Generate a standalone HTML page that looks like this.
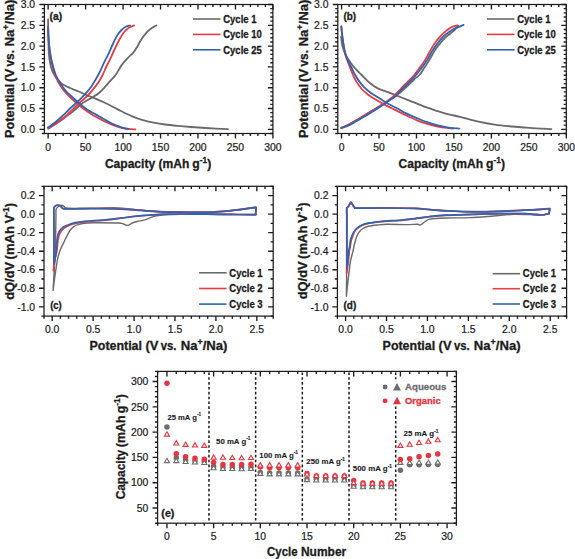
<!DOCTYPE html>
<html><head><meta charset="utf-8"><style>
html,body{margin:0;padding:0;background:#fff;width:575px;height:559px;overflow:hidden}
svg{display:block}
text{font-family:"Liberation Sans", sans-serif;stroke-width:0.22px}
text[font-weight=bold]{stroke-width:0.3px}
</style></head><body>
<svg width="575" height="559" viewBox="0 0 575 559" font-family='"Liberation Sans", sans-serif' fill="#1c1c1c">
<rect width="575" height="559" fill="#fff"/>
<path d="M48.15 133.50L48.15 138.50M48.15 4.50L48.15 9.50M55.64 133.50L55.64 136.10M55.64 4.50L55.64 7.10M63.13 133.50L63.13 136.10M63.13 4.50L63.13 7.10M70.62 133.50L70.62 136.10M70.62 4.50L70.62 7.10M78.11 133.50L78.11 136.10M78.11 4.50L78.11 7.10M85.60 133.50L85.60 138.50M85.60 4.50L85.60 9.50M93.10 133.50L93.10 136.10M93.10 4.50L93.10 7.10M100.59 133.50L100.59 136.10M100.59 4.50L100.59 7.10M108.08 133.50L108.08 136.10M108.08 4.50L108.08 7.10M115.57 133.50L115.57 136.10M115.57 4.50L115.57 7.10M123.06 133.50L123.06 138.50M123.06 4.50L123.06 9.50M130.56 133.50L130.56 136.10M130.56 4.50L130.56 7.10M138.05 133.50L138.05 136.10M138.05 4.50L138.05 7.10M145.54 133.50L145.54 136.10M145.54 4.50L145.54 7.10M153.03 133.50L153.03 136.10M153.03 4.50L153.03 7.10M160.52 133.50L160.52 138.50M160.52 4.50L160.52 9.50M168.01 133.50L168.01 136.10M168.01 4.50L168.01 7.10M175.51 133.50L175.51 136.10M175.51 4.50L175.51 7.10M183.00 133.50L183.00 136.10M183.00 4.50L183.00 7.10M190.49 133.50L190.49 136.10M190.49 4.50L190.49 7.10M197.98 133.50L197.98 138.50M197.98 4.50L197.98 9.50M205.47 133.50L205.47 136.10M205.47 4.50L205.47 7.10M212.97 133.50L212.97 136.10M212.97 4.50L212.97 7.10M220.46 133.50L220.46 136.10M220.46 4.50L220.46 7.10M227.95 133.50L227.95 136.10M227.95 4.50L227.95 7.10M235.44 133.50L235.44 138.50M235.44 4.50L235.44 9.50M242.93 133.50L242.93 136.10M242.93 4.50L242.93 7.10M250.42 133.50L250.42 136.10M250.42 4.50L250.42 7.10M257.92 133.50L257.92 136.10M257.92 4.50L257.92 7.10M265.41 133.50L265.41 136.10M265.41 4.50L265.41 7.10M272.90 133.50L272.90 138.50M272.90 4.50L272.90 9.50M44.40 133.50L41.80 133.50M272.90 133.50L270.30 133.50M44.40 129.34L39.40 129.34M272.90 129.34L267.90 129.34M44.40 125.18L41.80 125.18M272.90 125.18L270.30 125.18M44.40 121.02L41.80 121.02M272.90 121.02L270.30 121.02M44.40 116.85L41.80 116.85M272.90 116.85L270.30 116.85M44.40 112.69L41.80 112.69M272.90 112.69L270.30 112.69M44.40 108.53L39.40 108.53M272.90 108.53L267.90 108.53M44.40 104.37L41.80 104.37M272.90 104.37L270.30 104.37M44.40 100.21L41.80 100.21M272.90 100.21L270.30 100.21M44.40 96.05L41.80 96.05M272.90 96.05L270.30 96.05M44.40 91.89L41.80 91.89M272.90 91.89L270.30 91.89M44.40 87.73L39.40 87.73M272.90 87.73L267.90 87.73M44.40 83.56L41.80 83.56M272.90 83.56L270.30 83.56M44.40 79.40L41.80 79.40M272.90 79.40L270.30 79.40M44.40 75.24L41.80 75.24M272.90 75.24L270.30 75.24M44.40 71.08L41.80 71.08M272.90 71.08L270.30 71.08M44.40 66.92L39.40 66.92M272.90 66.92L267.90 66.92M44.40 62.76L41.80 62.76M272.90 62.76L270.30 62.76M44.40 58.60L41.80 58.60M272.90 58.60L270.30 58.60M44.40 54.44L41.80 54.44M272.90 54.44L270.30 54.44M44.40 50.27L41.80 50.27M272.90 50.27L270.30 50.27M44.40 46.11L39.40 46.11M272.90 46.11L267.90 46.11M44.40 41.95L41.80 41.95M272.90 41.95L270.30 41.95M44.40 37.79L41.80 37.79M272.90 37.79L270.30 37.79M44.40 33.63L41.80 33.63M272.90 33.63L270.30 33.63M44.40 29.47L41.80 29.47M272.90 29.47L270.30 29.47M44.40 25.31L39.40 25.31M272.90 25.31L267.90 25.31M44.40 21.15L41.80 21.15M272.90 21.15L270.30 21.15M44.40 16.98L41.80 16.98M272.90 16.98L270.30 16.98M44.40 12.82L41.80 12.82M272.90 12.82L270.30 12.82M44.40 8.66L41.80 8.66M272.90 8.66L270.30 8.66M44.40 4.50L39.40 4.50M272.90 4.50L267.90 4.50" stroke="#1c1c1c" stroke-width="1.35" fill="none"/>
<rect x="44.40" y="4.50" width="228.50" height="129.00" stroke="#1c1c1c" stroke-width="1.25" fill="none"/>
<path d="M48.10 19.30C48.12 21.08 48.15 26.55 48.20 30.00C48.25 33.45 48.30 36.23 48.40 40.00C48.50 43.77 48.50 48.68 48.80 52.60C49.10 56.52 49.58 60.35 50.20 63.50C50.82 66.65 51.62 69.28 52.50 71.50C53.38 73.72 54.42 75.22 55.50 76.80C56.58 78.38 57.75 79.70 59.00 81.00C60.25 82.30 61.17 83.43 63.00 84.60C64.83 85.77 67.38 86.85 70.00 88.00C72.62 89.15 75.80 90.27 78.70 91.50C81.60 92.73 84.50 94.17 87.40 95.40C90.30 96.63 93.20 97.67 96.10 98.90C99.00 100.13 101.90 101.42 104.80 102.80C107.70 104.18 110.72 105.78 113.50 107.20C116.28 108.62 118.38 109.78 121.50 111.30C124.62 112.82 128.63 114.83 132.20 116.30C135.77 117.77 139.32 119.05 142.90 120.10C146.48 121.15 150.02 121.87 153.70 122.60C157.38 123.33 160.98 123.95 165.00 124.50C169.02 125.05 173.47 125.48 177.80 125.90C182.13 126.32 186.35 126.65 191.00 127.00C195.65 127.35 199.55 127.63 205.70 128.00C211.85 128.37 224.20 129.00 227.90 129.20" stroke="#6a6a6a" stroke-width="1.80" fill="none" stroke-linejoin="round" stroke-linecap="round"/>
<path d="M48.30 128.60C49.73 127.72 54.03 125.23 56.90 123.30C59.77 121.37 62.65 119.13 65.50 117.00C68.35 114.87 71.37 112.65 74.00 110.50C76.63 108.35 79.07 105.82 81.30 104.10C83.53 102.38 85.52 101.35 87.40 100.20C89.28 99.05 90.72 98.35 92.60 97.20C94.48 96.05 96.67 94.97 98.70 93.30C100.73 91.63 102.92 89.23 104.80 87.20C106.68 85.17 108.22 83.13 110.00 81.10C111.78 79.07 113.58 77.62 115.50 75.00C117.42 72.38 119.43 68.25 121.50 65.40C123.57 62.55 125.93 60.03 127.90 57.90C129.87 55.77 131.68 54.57 133.30 52.60C134.92 50.63 136.35 48.17 137.60 46.10C138.85 44.03 139.55 42.17 140.80 40.20C142.05 38.23 143.50 36.17 145.10 34.30C146.70 32.43 148.53 30.48 150.40 29.00C152.27 27.52 155.32 26.00 156.30 25.40" stroke="#6a6a6a" stroke-width="1.80" fill="none" stroke-linejoin="round" stroke-linecap="round"/>
<path d="M48.30 128.30C49.73 127.38 54.03 124.80 56.90 122.80C59.77 120.80 63.32 118.10 65.50 116.30C67.68 114.50 67.52 114.38 70.00 112.00C72.48 109.62 77.50 104.68 80.40 102.00C83.30 99.32 85.22 98.08 87.40 95.90C89.58 93.72 91.62 91.22 93.50 88.90C95.38 86.58 97.18 84.32 98.70 82.00C100.22 79.68 101.32 77.58 102.60 75.00C103.88 72.42 105.05 69.35 106.40 66.50C107.75 63.65 109.27 60.93 110.70 57.90C112.13 54.87 113.57 51.33 115.00 48.30C116.43 45.27 117.87 42.30 119.30 39.70C120.73 37.10 122.17 34.58 123.60 32.70C125.03 30.82 126.15 29.62 127.90 28.40C129.65 27.18 133.07 25.90 134.10 25.40" stroke="#ea3a42" stroke-width="1.80" fill="none" stroke-linejoin="round" stroke-linecap="round"/>
<path d="M48.10 25.70C48.15 27.50 48.22 32.92 48.40 36.50C48.58 40.08 48.82 43.63 49.20 47.20C49.58 50.77 50.13 54.68 50.70 57.90C51.27 61.12 51.93 63.82 52.60 66.50C53.27 69.18 53.80 71.50 54.70 74.00C55.60 76.50 56.62 78.92 58.00 81.50C59.38 84.08 61.00 86.88 63.00 89.50C65.00 92.12 67.38 94.62 70.00 97.20C72.62 99.78 75.80 102.62 78.70 105.00C81.60 107.38 85.08 109.83 87.40 111.50C89.72 113.17 90.50 113.75 92.60 115.00C94.70 116.25 96.98 117.47 100.00 119.00C103.02 120.53 107.12 122.73 110.70 124.20C114.28 125.67 118.62 127.02 121.50 127.80C124.38 128.58 125.68 128.63 128.00 128.90C130.32 129.17 134.17 129.32 135.40 129.40" stroke="#ea3a42" stroke-width="1.80" fill="none" stroke-linejoin="round" stroke-linecap="round"/>
<path d="M47.80 127.60C48.95 126.80 52.12 124.87 54.70 122.80C57.28 120.73 60.75 117.58 63.30 115.20C65.85 112.82 67.43 110.92 70.00 108.50C72.57 106.08 76.08 103.23 78.70 100.70C81.32 98.17 83.67 95.55 85.70 93.30C87.73 91.05 89.32 89.38 90.90 87.20C92.48 85.02 93.97 82.23 95.20 80.20C96.43 78.17 97.50 76.45 98.30 75.00C99.10 73.55 99.00 73.63 100.00 71.50C101.00 69.37 102.87 65.18 104.30 62.20C105.73 59.22 107.17 56.63 108.60 53.60C110.03 50.57 111.47 47.03 112.90 44.00C114.33 40.97 115.77 37.73 117.20 35.40C118.63 33.07 120.07 31.43 121.50 30.00C122.93 28.57 124.38 27.55 125.80 26.80C127.22 26.05 129.30 25.72 130.00 25.50" stroke="#3064b0" stroke-width="1.80" fill="none" stroke-linejoin="round" stroke-linecap="round"/>
<path d="M48.10 27.30C48.17 28.83 48.28 33.18 48.50 36.50C48.72 39.82 48.98 43.63 49.40 47.20C49.82 50.77 50.38 54.68 51.00 57.90C51.62 61.12 52.30 63.65 53.10 66.50C53.90 69.35 54.63 72.25 55.80 75.00C56.97 77.75 58.48 80.40 60.10 83.00C61.72 85.60 63.85 88.60 65.50 90.60C67.15 92.60 67.80 92.97 70.00 95.00C72.20 97.03 75.80 100.33 78.70 102.80C81.60 105.27 84.50 107.83 87.40 109.80C90.30 111.77 94.00 113.42 96.10 114.60C98.20 115.78 97.57 115.50 100.00 116.90C102.43 118.30 107.12 121.27 110.70 123.00C114.28 124.73 118.55 126.30 121.50 127.30C124.45 128.30 127.25 128.72 128.40 129.00" stroke="#3064b0" stroke-width="1.80" fill="none" stroke-linejoin="round" stroke-linecap="round"/>
<text x="48.15" y="150.60" font-size="10.40" text-anchor="middle" stroke="#1c1c1c">0</text>
<text x="85.60" y="150.60" font-size="10.40" text-anchor="middle" stroke="#1c1c1c">50</text>
<text x="123.06" y="150.60" font-size="10.40" text-anchor="middle" stroke="#1c1c1c">100</text>
<text x="160.52" y="150.60" font-size="10.40" text-anchor="middle" stroke="#1c1c1c">150</text>
<text x="197.98" y="150.60" font-size="10.40" text-anchor="middle" stroke="#1c1c1c">200</text>
<text x="235.44" y="150.60" font-size="10.40" text-anchor="middle" stroke="#1c1c1c">250</text>
<text x="272.90" y="150.60" font-size="10.40" text-anchor="middle" stroke="#1c1c1c">300</text>
<text x="35.10" y="133.09" font-size="10.40" text-anchor="end" stroke="#1c1c1c">0.0</text>
<text x="35.10" y="112.28" font-size="10.40" text-anchor="end" stroke="#1c1c1c">0.5</text>
<text x="35.10" y="91.48" font-size="10.40" text-anchor="end" stroke="#1c1c1c">1.0</text>
<text x="35.10" y="70.67" font-size="10.40" text-anchor="end" stroke="#1c1c1c">1.5</text>
<text x="35.10" y="49.86" font-size="10.40" text-anchor="end" stroke="#1c1c1c">2.0</text>
<text x="35.10" y="29.06" font-size="10.40" text-anchor="end" stroke="#1c1c1c">2.5</text>
<text x="35.10" y="8.25" font-size="10.40" text-anchor="end" stroke="#1c1c1c">3.0</text>
<text font-size="10.20" font-weight="bold" stroke="#1c1c1c" transform="translate(50.20 19.60) translate(-0.62 0) scale(1.0135 1)">(a)</text>
<path d="M193.00 19.00H220.50" stroke="#6a6a6a" stroke-width="1.60"/>
<text font-size="10.10" font-weight="bold" stroke="#1c1c1c" transform="translate(223.80 22.70) translate(-0.57 0) scale(0.9421 1)">Cycle 1</text>
<path d="M193.00 34.40H220.50" stroke="#ea3a42" stroke-width="1.60"/>
<text font-size="10.10" font-weight="bold" stroke="#1c1c1c" transform="translate(223.80 38.10) translate(-0.57 0) scale(0.9399 1)">Cycle 10</text>
<path d="M193.00 49.80H220.50" stroke="#3064b0" stroke-width="1.60"/>
<text font-size="10.10" font-weight="bold" stroke="#1c1c1c" transform="translate(223.80 53.50) translate(-0.57 0) scale(0.9399 1)">Cycle 25</text>
<path d="M341.55 133.50L341.55 138.50M341.55 4.50L341.55 9.50M349.04 133.50L349.04 136.10M349.04 4.50L349.04 7.10M356.53 133.50L356.53 136.10M356.53 4.50L356.53 7.10M364.02 133.50L364.02 136.10M364.02 4.50L364.02 7.10M371.51 133.50L371.51 136.10M371.51 4.50L371.51 7.10M379.00 133.50L379.00 138.50M379.00 4.50L379.00 9.50M386.50 133.50L386.50 136.10M386.50 4.50L386.50 7.10M393.99 133.50L393.99 136.10M393.99 4.50L393.99 7.10M401.48 133.50L401.48 136.10M401.48 4.50L401.48 7.10M408.97 133.50L408.97 136.10M408.97 4.50L408.97 7.10M416.46 133.50L416.46 138.50M416.46 4.50L416.46 9.50M423.96 133.50L423.96 136.10M423.96 4.50L423.96 7.10M431.45 133.50L431.45 136.10M431.45 4.50L431.45 7.10M438.94 133.50L438.94 136.10M438.94 4.50L438.94 7.10M446.43 133.50L446.43 136.10M446.43 4.50L446.43 7.10M453.92 133.50L453.92 138.50M453.92 4.50L453.92 9.50M461.41 133.50L461.41 136.10M461.41 4.50L461.41 7.10M468.91 133.50L468.91 136.10M468.91 4.50L468.91 7.10M476.40 133.50L476.40 136.10M476.40 4.50L476.40 7.10M483.89 133.50L483.89 136.10M483.89 4.50L483.89 7.10M491.38 133.50L491.38 138.50M491.38 4.50L491.38 9.50M498.87 133.50L498.87 136.10M498.87 4.50L498.87 7.10M506.37 133.50L506.37 136.10M506.37 4.50L506.37 7.10M513.86 133.50L513.86 136.10M513.86 4.50L513.86 7.10M521.35 133.50L521.35 136.10M521.35 4.50L521.35 7.10M528.84 133.50L528.84 138.50M528.84 4.50L528.84 9.50M536.33 133.50L536.33 136.10M536.33 4.50L536.33 7.10M543.82 133.50L543.82 136.10M543.82 4.50L543.82 7.10M551.32 133.50L551.32 136.10M551.32 4.50L551.32 7.10M558.81 133.50L558.81 136.10M558.81 4.50L558.81 7.10M566.30 133.50L566.30 138.50M566.30 4.50L566.30 9.50M337.80 133.50L335.20 133.50M566.30 133.50L563.70 133.50M337.80 129.34L332.80 129.34M566.30 129.34L561.30 129.34M337.80 125.18L335.20 125.18M566.30 125.18L563.70 125.18M337.80 121.02L335.20 121.02M566.30 121.02L563.70 121.02M337.80 116.85L335.20 116.85M566.30 116.85L563.70 116.85M337.80 112.69L335.20 112.69M566.30 112.69L563.70 112.69M337.80 108.53L332.80 108.53M566.30 108.53L561.30 108.53M337.80 104.37L335.20 104.37M566.30 104.37L563.70 104.37M337.80 100.21L335.20 100.21M566.30 100.21L563.70 100.21M337.80 96.05L335.20 96.05M566.30 96.05L563.70 96.05M337.80 91.89L335.20 91.89M566.30 91.89L563.70 91.89M337.80 87.73L332.80 87.73M566.30 87.73L561.30 87.73M337.80 83.56L335.20 83.56M566.30 83.56L563.70 83.56M337.80 79.40L335.20 79.40M566.30 79.40L563.70 79.40M337.80 75.24L335.20 75.24M566.30 75.24L563.70 75.24M337.80 71.08L335.20 71.08M566.30 71.08L563.70 71.08M337.80 66.92L332.80 66.92M566.30 66.92L561.30 66.92M337.80 62.76L335.20 62.76M566.30 62.76L563.70 62.76M337.80 58.60L335.20 58.60M566.30 58.60L563.70 58.60M337.80 54.44L335.20 54.44M566.30 54.44L563.70 54.44M337.80 50.27L335.20 50.27M566.30 50.27L563.70 50.27M337.80 46.11L332.80 46.11M566.30 46.11L561.30 46.11M337.80 41.95L335.20 41.95M566.30 41.95L563.70 41.95M337.80 37.79L335.20 37.79M566.30 37.79L563.70 37.79M337.80 33.63L335.20 33.63M566.30 33.63L563.70 33.63M337.80 29.47L335.20 29.47M566.30 29.47L563.70 29.47M337.80 25.31L332.80 25.31M566.30 25.31L561.30 25.31M337.80 21.15L335.20 21.15M566.30 21.15L563.70 21.15M337.80 16.98L335.20 16.98M566.30 16.98L563.70 16.98M337.80 12.82L335.20 12.82M566.30 12.82L563.70 12.82M337.80 8.66L335.20 8.66M566.30 8.66L563.70 8.66M337.80 4.50L332.80 4.50M566.30 4.50L561.30 4.50" stroke="#1c1c1c" stroke-width="1.35" fill="none"/>
<rect x="337.80" y="4.50" width="228.50" height="129.00" stroke="#1c1c1c" stroke-width="1.25" fill="none"/>
<path d="M341.10 37.00C341.32 38.52 341.65 43.15 342.40 46.10C343.15 49.05 344.17 51.83 345.60 54.70C347.03 57.57 349.22 60.80 351.00 63.30C352.78 65.80 354.52 67.75 356.30 69.70C358.08 71.65 359.55 72.87 361.70 75.00C363.85 77.13 366.52 80.27 369.20 82.50C371.88 84.73 374.93 86.88 377.80 88.40C380.67 89.92 383.53 90.52 386.40 91.60C389.27 92.68 391.78 93.65 395.00 94.90C398.22 96.15 402.12 97.68 405.70 99.10C409.28 100.52 412.92 101.97 416.50 103.40C420.08 104.83 423.63 106.40 427.20 107.70C430.77 109.00 434.32 110.08 437.90 111.20C441.48 112.32 445.02 113.47 448.70 114.40C452.38 115.33 455.22 115.65 460.00 116.80C464.78 117.95 471.60 120.00 477.40 121.30C483.20 122.60 489.00 123.73 494.80 124.60C500.60 125.47 506.40 125.95 512.20 126.50C518.00 127.05 523.08 127.47 529.60 127.90C536.12 128.33 547.68 128.90 551.30 129.10" stroke="#6a6a6a" stroke-width="1.80" fill="none" stroke-linejoin="round" stroke-linecap="round"/>
<path d="M341.30 127.80C342.55 127.27 345.93 126.07 348.80 124.60C351.67 123.13 355.10 121.00 358.50 119.00C361.90 117.00 365.63 114.72 369.20 112.60C372.77 110.48 376.68 108.30 379.90 106.30C383.12 104.30 385.98 102.23 388.50 100.60C391.02 98.97 393.02 97.90 395.00 96.50C396.98 95.10 398.25 94.00 400.40 92.20C402.55 90.40 405.63 87.82 407.90 85.70C410.17 83.58 412.08 81.28 414.00 79.50C415.92 77.72 417.65 76.98 419.40 75.00C421.15 73.02 422.85 70.08 424.50 67.60C426.15 65.12 427.60 62.97 429.30 60.10C431.00 57.23 432.90 53.18 434.70 50.40C436.50 47.62 438.32 45.55 440.10 43.40C441.88 41.25 443.62 39.20 445.40 37.50C447.18 35.80 449.20 34.53 450.80 33.20C452.40 31.87 453.77 30.75 455.00 29.50C456.23 28.25 457.67 26.33 458.20 25.70" stroke="#6a6a6a" stroke-width="1.80" fill="none" stroke-linejoin="round" stroke-linecap="round"/>
<path d="M341.30 127.80C342.55 127.27 345.93 126.07 348.80 124.60C351.67 123.13 355.10 121.00 358.50 119.00C361.90 117.00 365.63 114.75 369.20 112.60C372.77 110.45 376.68 108.17 379.90 106.10C383.12 104.03 385.98 102.07 388.50 100.20C391.02 98.33 392.25 97.52 395.00 94.90C397.75 92.28 401.78 87.82 405.00 84.50C408.22 81.18 411.85 77.82 414.30 75.00C416.75 72.18 417.92 70.08 419.70 67.60C421.48 65.12 423.22 62.97 425.00 60.10C426.78 57.23 428.60 53.45 430.40 50.40C432.20 47.35 434.00 44.30 435.80 41.80C437.60 39.30 439.42 37.27 441.20 35.40C442.98 33.53 444.87 31.92 446.50 30.60C448.13 29.28 449.23 28.38 451.00 27.50C452.77 26.62 456.08 25.67 457.10 25.30" stroke="#ea3a42" stroke-width="1.80" fill="none" stroke-linejoin="round" stroke-linecap="round"/>
<path d="M341.30 26.30C341.47 28.00 341.92 33.30 342.30 36.50C342.68 39.70 343.15 42.65 343.60 45.50C344.05 48.35 344.13 50.45 345.00 53.60C345.87 56.75 347.45 60.83 348.80 64.40C350.15 67.97 351.85 72.17 353.10 75.00C354.35 77.83 354.87 79.07 356.30 81.40C357.73 83.73 359.55 86.67 361.70 89.00C363.85 91.33 366.52 93.43 369.20 95.40C371.88 97.37 374.93 99.10 377.80 100.80C380.67 102.50 383.53 104.08 386.40 105.60C389.27 107.12 391.78 108.30 395.00 109.90C398.22 111.50 402.12 113.50 405.70 115.20C409.28 116.90 412.92 118.67 416.50 120.10C420.08 121.53 423.63 122.73 427.20 123.80C430.77 124.87 434.32 125.78 437.90 126.50C441.48 127.22 446.18 127.77 448.70 128.10C451.22 128.43 452.28 128.43 453.00 128.50" stroke="#ea3a42" stroke-width="1.80" fill="none" stroke-linejoin="round" stroke-linecap="round"/>
<path d="M341.30 128.10C342.55 127.65 346.30 126.55 348.80 125.40C351.30 124.25 353.62 122.72 356.30 121.20C358.98 119.68 362.03 118.00 364.90 116.30C367.77 114.60 370.63 112.78 373.50 111.00C376.37 109.22 379.42 107.40 382.10 105.60C384.78 103.80 387.45 101.72 389.60 100.20C391.75 98.68 393.03 98.20 395.00 96.50C396.97 94.80 399.25 92.15 401.40 90.00C403.55 87.85 405.47 86.10 407.90 83.60C410.33 81.10 413.68 77.67 416.00 75.00C418.32 72.33 419.93 70.08 421.80 67.60C423.67 65.12 425.40 62.97 427.20 60.10C429.00 57.23 430.82 53.27 432.60 50.40C434.38 47.53 436.12 45.22 437.90 42.90C439.68 40.58 441.50 38.28 443.30 36.50C445.10 34.72 446.75 33.55 448.70 32.20C450.65 30.85 452.52 29.62 455.00 28.40C457.48 27.18 462.17 25.48 463.60 24.90" stroke="#3064b0" stroke-width="1.80" fill="none" stroke-linejoin="round" stroke-linecap="round"/>
<path d="M341.30 26.30C341.48 28.00 341.95 33.02 342.40 36.50C342.85 39.98 343.28 43.63 344.00 47.20C344.72 50.77 345.53 54.68 346.70 57.90C347.87 61.12 349.58 63.65 351.00 66.50C352.42 69.35 353.95 72.68 355.20 75.00C356.45 77.32 357.07 78.43 358.50 80.40C359.93 82.37 361.67 84.67 363.80 86.80C365.93 88.93 368.62 91.23 371.30 93.20C373.98 95.17 377.03 96.80 379.90 98.60C382.77 100.40 385.65 102.38 388.50 104.00C391.35 105.62 394.13 106.78 397.00 108.30C399.87 109.82 402.45 111.50 405.70 113.10C408.95 114.70 412.92 116.38 416.50 117.90C420.08 119.42 423.63 120.95 427.20 122.20C430.77 123.45 434.32 124.50 437.90 125.40C441.48 126.30 445.13 127.07 448.70 127.60C452.27 128.13 457.53 128.43 459.30 128.60" stroke="#3064b0" stroke-width="1.80" fill="none" stroke-linejoin="round" stroke-linecap="round"/>
<text x="341.55" y="150.60" font-size="10.40" text-anchor="middle" stroke="#1c1c1c">0</text>
<text x="379.00" y="150.60" font-size="10.40" text-anchor="middle" stroke="#1c1c1c">50</text>
<text x="416.46" y="150.60" font-size="10.40" text-anchor="middle" stroke="#1c1c1c">100</text>
<text x="453.92" y="150.60" font-size="10.40" text-anchor="middle" stroke="#1c1c1c">150</text>
<text x="491.38" y="150.60" font-size="10.40" text-anchor="middle" stroke="#1c1c1c">200</text>
<text x="528.84" y="150.60" font-size="10.40" text-anchor="middle" stroke="#1c1c1c">250</text>
<text x="566.30" y="150.60" font-size="10.40" text-anchor="middle" stroke="#1c1c1c">300</text>
<text x="328.50" y="133.09" font-size="10.40" text-anchor="end" stroke="#1c1c1c">0.0</text>
<text x="328.50" y="112.28" font-size="10.40" text-anchor="end" stroke="#1c1c1c">0.5</text>
<text x="328.50" y="91.48" font-size="10.40" text-anchor="end" stroke="#1c1c1c">1.0</text>
<text x="328.50" y="70.67" font-size="10.40" text-anchor="end" stroke="#1c1c1c">1.5</text>
<text x="328.50" y="49.86" font-size="10.40" text-anchor="end" stroke="#1c1c1c">2.0</text>
<text x="328.50" y="29.06" font-size="10.40" text-anchor="end" stroke="#1c1c1c">2.5</text>
<text x="328.50" y="8.25" font-size="10.40" text-anchor="end" stroke="#1c1c1c">3.0</text>
<text font-size="10.20" font-weight="bold" stroke="#1c1c1c" transform="translate(344.00 19.60) translate(-0.59 0) scale(0.9701 1)">(b)</text>
<path d="M487.00 19.00H514.50" stroke="#6a6a6a" stroke-width="1.60"/>
<text font-size="10.10" font-weight="bold" stroke="#1c1c1c" transform="translate(517.80 22.70) translate(-0.57 0) scale(0.9421 1)">Cycle 1</text>
<path d="M487.00 34.40H514.50" stroke="#ea3a42" stroke-width="1.60"/>
<text font-size="10.10" font-weight="bold" stroke="#1c1c1c" transform="translate(517.80 38.10) translate(-0.57 0) scale(0.9399 1)">Cycle 10</text>
<path d="M487.00 49.80H514.50" stroke="#3064b0" stroke-width="1.60"/>
<text font-size="10.10" font-weight="bold" stroke="#1c1c1c" transform="translate(517.80 53.50) translate(-0.57 0) scale(0.9399 1)">Cycle 25</text>
<text font-size="12.30" font-weight="bold" stroke="#1c1c1c" transform="translate(13.80 137.30) rotate(-90) translate(-0.77 0) scale(1.0413 1)">Potential</text>
<text font-size="12.30" font-weight="bold" stroke="#1c1c1c" transform="translate(13.80 81.40) rotate(-90) translate(-0.83 0) scale(1.1208 1)">(V</text>
<text font-size="12.30" font-weight="bold" stroke="#1c1c1c" transform="translate(13.80 65.80) rotate(-90) translate(-0.71 0) scale(0.9641 1)">vs.</text>
<text font-size="12.30" font-weight="bold" stroke="#1c1c1c" transform="translate(13.80 45.80) rotate(-90) translate(-0.79 0) scale(1.0716 1)">Na<tspan font-size="8.36" dy="-4.92">+</tspan><tspan dy="4.92">/Na)</tspan></text>
<text font-size="12.30" font-weight="bold" stroke="#1c1c1c" transform="translate(307.80 137.30) rotate(-90) translate(-0.77 0) scale(1.0413 1)">Potential</text>
<text font-size="12.30" font-weight="bold" stroke="#1c1c1c" transform="translate(307.80 81.40) rotate(-90) translate(-0.83 0) scale(1.1208 1)">(V</text>
<text font-size="12.30" font-weight="bold" stroke="#1c1c1c" transform="translate(307.80 65.80) rotate(-90) translate(-0.71 0) scale(0.9641 1)">vs.</text>
<text font-size="12.30" font-weight="bold" stroke="#1c1c1c" transform="translate(307.80 45.80) rotate(-90) translate(-0.79 0) scale(1.0716 1)">Na<tspan font-size="8.36" dy="-4.92">+</tspan><tspan dy="4.92">/Na)</tspan></text>
<text font-size="12.30" font-weight="bold" stroke="#1c1c1c" transform="translate(105.60 167.90) translate(-0.72 0) scale(0.9808 1)">Capacity</text>
<text font-size="12.30" font-weight="bold" stroke="#1c1c1c" transform="translate(159.30 167.90) translate(-0.72 0) scale(0.9795 1)">(mAh</text>
<text font-size="12.30" font-weight="bold" stroke="#1c1c1c" transform="translate(193.10 167.90) translate(-0.73 0) scale(0.9916 1)">g<tspan font-size="8.36" dy="-4.92">-1</tspan><tspan dy="4.92">)</tspan></text>
<text font-size="12.30" font-weight="bold" stroke="#1c1c1c" transform="translate(399.30 167.70) translate(-0.72 0) scale(0.9808 1)">Capacity</text>
<text font-size="12.30" font-weight="bold" stroke="#1c1c1c" transform="translate(453.00 167.70) translate(-0.72 0) scale(0.9795 1)">(mAh</text>
<text font-size="12.30" font-weight="bold" stroke="#1c1c1c" transform="translate(486.80 167.70) translate(-0.73 0) scale(0.9916 1)">g<tspan font-size="8.36" dy="-4.92">-1</tspan><tspan dy="4.92">)</tspan></text>
<path d="M44.00 316.10L44.00 318.70M44.00 186.30L44.00 188.90M52.19 316.10L52.19 321.10M52.19 186.30L52.19 191.30M60.37 316.10L60.37 318.70M60.37 186.30L60.37 188.90M68.56 316.10L68.56 318.70M68.56 186.30L68.56 188.90M76.74 316.10L76.74 318.70M76.74 186.30L76.74 188.90M84.93 316.10L84.93 318.70M84.93 186.30L84.93 188.90M93.11 316.10L93.11 321.10M93.11 186.30L93.11 191.30M101.30 316.10L101.30 318.70M101.30 186.30L101.30 188.90M109.49 316.10L109.49 318.70M109.49 186.30L109.49 188.90M117.67 316.10L117.67 318.70M117.67 186.30L117.67 188.90M125.86 316.10L125.86 318.70M125.86 186.30L125.86 188.90M134.04 316.10L134.04 321.10M134.04 186.30L134.04 191.30M142.23 316.10L142.23 318.70M142.23 186.30L142.23 188.90M150.41 316.10L150.41 318.70M150.41 186.30L150.41 188.90M158.60 316.10L158.60 318.70M158.60 186.30L158.60 188.90M166.79 316.10L166.79 318.70M166.79 186.30L166.79 188.90M174.97 316.10L174.97 321.10M174.97 186.30L174.97 191.30M183.16 316.10L183.16 318.70M183.16 186.30L183.16 188.90M191.34 316.10L191.34 318.70M191.34 186.30L191.34 188.90M199.53 316.10L199.53 318.70M199.53 186.30L199.53 188.90M207.71 316.10L207.71 318.70M207.71 186.30L207.71 188.90M215.90 316.10L215.90 321.10M215.90 186.30L215.90 191.30M224.09 316.10L224.09 318.70M224.09 186.30L224.09 188.90M232.27 316.10L232.27 318.70M232.27 186.30L232.27 188.90M240.46 316.10L240.46 318.70M240.46 186.30L240.46 188.90M248.64 316.10L248.64 318.70M248.64 186.30L248.64 188.90M256.83 316.10L256.83 321.10M256.83 186.30L256.83 191.30M265.01 316.10L265.01 318.70M265.01 186.30L265.01 188.90M273.20 316.10L273.20 318.70M273.20 186.30L273.20 188.90M44.00 316.10L41.40 316.10M273.20 316.10L270.60 316.10M44.00 306.83L39.00 306.83M273.20 306.83L268.20 306.83M44.00 297.56L41.40 297.56M273.20 297.56L270.60 297.56M44.00 288.29L39.00 288.29M273.20 288.29L268.20 288.29M44.00 279.01L41.40 279.01M273.20 279.01L270.60 279.01M44.00 269.74L39.00 269.74M273.20 269.74L268.20 269.74M44.00 260.47L41.40 260.47M273.20 260.47L270.60 260.47M44.00 251.20L39.00 251.20M273.20 251.20L268.20 251.20M44.00 241.93L41.40 241.93M273.20 241.93L270.60 241.93M44.00 232.66L39.00 232.66M273.20 232.66L268.20 232.66M44.00 223.39L41.40 223.39M273.20 223.39L270.60 223.39M44.00 214.11L39.00 214.11M273.20 214.11L268.20 214.11M44.00 204.84L41.40 204.84M273.20 204.84L270.60 204.84M44.00 195.57L39.00 195.57M273.20 195.57L268.20 195.57M44.00 186.30L41.40 186.30M273.20 186.30L270.60 186.30" stroke="#1c1c1c" stroke-width="1.35" fill="none"/>
<rect x="44.00" y="186.30" width="229.20" height="129.80" stroke="#1c1c1c" stroke-width="1.25" fill="none"/>
<text x="52.19" y="333.00" font-size="10.40" text-anchor="middle" stroke="#1c1c1c">0.0</text>
<text x="93.11" y="333.00" font-size="10.40" text-anchor="middle" stroke="#1c1c1c">0.5</text>
<text x="134.04" y="333.00" font-size="10.40" text-anchor="middle" stroke="#1c1c1c">1.0</text>
<text x="174.97" y="333.00" font-size="10.40" text-anchor="middle" stroke="#1c1c1c">1.5</text>
<text x="215.90" y="333.00" font-size="10.40" text-anchor="middle" stroke="#1c1c1c">2.0</text>
<text x="256.83" y="333.00" font-size="10.40" text-anchor="middle" stroke="#1c1c1c">2.5</text>
<text x="35.10" y="199.32" font-size="10.40" text-anchor="end" stroke="#1c1c1c">0.2</text>
<text x="35.10" y="217.86" font-size="10.40" text-anchor="end" stroke="#1c1c1c">0.0</text>
<text x="35.10" y="236.41" font-size="10.40" text-anchor="end" stroke="#1c1c1c">-0.2</text>
<text x="35.10" y="254.95" font-size="10.40" text-anchor="end" stroke="#1c1c1c">-0.4</text>
<text x="35.10" y="273.49" font-size="10.40" text-anchor="end" stroke="#1c1c1c">-0.6</text>
<text x="35.10" y="292.04" font-size="10.40" text-anchor="end" stroke="#1c1c1c">-0.8</text>
<text x="35.10" y="310.58" font-size="10.40" text-anchor="end" stroke="#1c1c1c">-1.0</text>
<text font-size="10.20" font-weight="bold" stroke="#1c1c1c" transform="translate(50.70 309.30) translate(-0.57 0) scale(0.9333 1)">(c)</text>
<path d="M256.10 207.60C255.37 207.67 254.00 207.70 251.70 208.00C249.40 208.30 245.95 208.92 242.30 209.40C238.65 209.88 234.50 210.45 229.80 210.90C225.10 211.35 219.32 211.85 214.10 212.10C208.88 212.35 204.18 212.40 198.50 212.40C192.82 212.40 186.35 212.23 180.00 212.10C173.65 211.97 166.27 211.87 160.40 211.60C154.53 211.33 148.70 210.82 144.80 210.50C140.90 210.18 140.13 210.02 137.00 209.70C133.87 209.38 129.92 208.93 126.00 208.60C122.08 208.27 119.50 207.75 113.50 207.70C107.50 207.65 95.62 208.17 90.00 208.30C84.38 208.43 83.73 208.55 79.80 208.50C75.87 208.45 69.02 208.35 66.40 208.00C63.78 207.65 64.93 206.85 64.10 206.40C63.27 205.95 62.37 205.27 61.40 205.30C60.43 205.33 59.18 205.93 58.30 206.60C57.42 207.27 56.48 207.90 56.10 209.30C55.72 210.70 56.02 214.05 56.00 215.00C55.87 220.83 55.68 237.43 55.20 250.00C54.72 262.57 53.45 283.67 53.10 290.40C53.37 288.27 54.17 281.53 54.70 277.60C55.23 273.67 55.75 270.20 56.30 266.80C56.85 263.40 57.33 260.05 58.00 257.20C58.67 254.35 59.55 251.75 60.30 249.70C61.05 247.65 61.68 246.60 62.50 244.90C63.32 243.20 64.30 241.30 65.20 239.50C66.10 237.70 67.02 235.72 67.90 234.10C68.78 232.48 69.52 231.05 70.50 229.80C71.48 228.55 72.55 227.47 73.80 226.60C75.05 225.73 76.25 225.17 78.00 224.60C79.75 224.03 81.63 223.52 84.30 223.20C86.97 222.88 88.35 222.73 94.00 222.70C99.65 222.67 113.38 222.82 118.20 223.00C123.02 223.18 121.33 223.40 122.90 223.80C124.47 224.20 126.03 225.53 127.60 225.40C129.17 225.27 130.73 223.65 132.30 223.00C133.87 222.35 134.92 222.02 137.00 221.50C139.08 220.98 142.20 220.68 144.80 219.90C147.40 219.12 150.00 217.58 152.60 216.80C155.20 216.02 155.83 215.60 160.40 215.20C164.97 214.80 172.40 214.55 180.00 214.40C187.60 214.25 197.67 214.28 206.00 214.30C214.33 214.32 222.12 214.42 230.00 214.50C237.88 214.58 249.03 214.82 253.30 214.80C257.57 214.78 255.22 214.47 255.60 214.40L256.10 207.60" stroke="#6a6a6a" stroke-width="1.40" fill="none" stroke-linejoin="round" stroke-linecap="round"/>
<path d="M256.10 207.40C255.37 207.47 254.00 207.52 251.70 207.80C249.40 208.08 245.95 208.63 242.30 209.10C238.65 209.57 234.50 210.13 229.80 210.60C225.10 211.07 219.32 211.63 214.10 211.90C208.88 212.17 204.18 212.18 198.50 212.20C192.82 212.22 186.35 212.10 180.00 212.00C173.65 211.90 166.27 211.85 160.40 211.60C154.53 211.35 150.02 210.88 144.80 210.50C139.58 210.12 134.32 209.62 129.10 209.30C123.88 208.98 120.02 208.73 113.50 208.60C106.98 208.47 95.62 208.48 90.00 208.50C84.38 208.52 83.73 208.63 79.80 208.70C75.87 208.77 69.17 208.92 66.40 208.90C63.63 208.88 63.95 208.83 63.20 208.60C62.45 208.37 62.48 208.00 61.90 207.50C61.32 207.00 60.45 206.02 59.70 205.60C58.95 205.18 58.15 204.90 57.40 205.00C56.65 205.10 55.78 205.63 55.20 206.20C54.62 206.77 54.12 206.93 53.90 208.40C53.68 209.87 53.90 213.90 53.90 215.00C53.90 222.83 54.00 252.73 53.90 262.00C53.80 271.27 53.40 269.17 53.30 270.60C53.63 268.50 54.70 261.30 55.30 258.00C55.90 254.70 56.50 253.35 56.90 250.80C57.30 248.25 57.40 245.03 57.70 242.70C58.00 240.37 58.27 238.50 58.70 236.80C59.13 235.10 59.40 233.93 60.30 232.50C61.20 231.07 62.57 229.40 64.10 228.20C65.63 227.00 67.63 226.10 69.50 225.30C71.37 224.50 72.83 223.97 75.30 223.40C77.77 222.83 81.18 222.30 84.30 221.90C87.42 221.50 90.43 221.28 94.00 221.00C97.57 220.72 101.15 220.67 105.70 220.20C110.25 219.73 116.08 218.87 121.30 218.20C126.52 217.53 131.78 216.73 137.00 216.20C142.22 215.67 147.38 215.33 152.60 215.00C157.82 214.67 163.73 214.35 168.30 214.20C172.87 214.05 173.67 214.12 180.00 214.10C186.33 214.08 198.00 214.05 206.30 214.10C214.60 214.15 221.97 214.30 229.80 214.40C237.63 214.50 249.00 214.70 253.30 214.70C257.60 214.70 255.22 214.45 255.60 214.40L256.10 207.40" stroke="#ea3a42" stroke-width="1.70" fill="none" stroke-linejoin="round" stroke-linecap="round"/>
<path d="M256.10 207.40C255.37 207.48 254.00 207.58 251.70 207.90C249.40 208.22 245.95 208.82 242.30 209.30C238.65 209.78 234.50 210.33 229.80 210.80C225.10 211.27 219.32 211.83 214.10 212.10C208.88 212.37 204.18 212.40 198.50 212.40C192.82 212.40 186.35 212.20 180.00 212.10C173.65 212.00 166.27 212.02 160.40 211.80C154.53 211.58 150.02 211.15 144.80 210.80C139.58 210.45 134.32 210.00 129.10 209.70C123.88 209.40 120.02 209.18 113.50 209.00C106.98 208.82 95.62 208.65 90.00 208.60C84.38 208.55 83.73 208.65 79.80 208.70C75.87 208.75 69.17 208.92 66.40 208.90C63.63 208.88 63.95 208.83 63.20 208.60C62.45 208.37 62.48 208.00 61.90 207.50C61.32 207.00 60.45 206.02 59.70 205.60C58.95 205.18 58.15 204.90 57.40 205.00C56.65 205.10 55.78 205.63 55.20 206.20C54.62 206.77 54.12 206.93 53.90 208.40C53.68 209.87 53.90 213.90 53.90 215.00L53.90 264.00C54.07 263.17 54.58 260.50 54.90 259.00C55.22 257.50 55.57 256.92 55.80 255.00C56.03 253.08 56.12 249.82 56.30 247.50C56.48 245.18 56.67 243.07 56.90 241.10C57.13 239.13 57.40 237.13 57.70 235.70C58.00 234.27 58.17 233.57 58.70 232.50C59.23 231.43 60.00 230.28 60.90 229.30C61.80 228.32 62.75 227.40 64.10 226.60C65.45 225.80 67.13 225.15 69.00 224.50C70.87 223.85 72.75 223.22 75.30 222.70C77.85 222.18 81.18 221.77 84.30 221.40C87.42 221.03 90.43 220.75 94.00 220.50C97.57 220.25 101.15 220.32 105.70 219.90C110.25 219.48 116.08 218.65 121.30 218.00C126.52 217.35 131.78 216.52 137.00 216.00C142.22 215.48 147.38 215.22 152.60 214.90C157.82 214.58 163.73 214.25 168.30 214.10C172.87 213.95 173.67 214.00 180.00 214.00C186.33 214.00 198.00 214.03 206.30 214.10C214.60 214.17 221.97 214.30 229.80 214.40C237.63 214.50 249.00 214.70 253.30 214.70C257.60 214.70 255.22 214.45 255.60 214.40L256.10 207.40" stroke="#3064b0" stroke-width="1.70" fill="none" stroke-linejoin="round" stroke-linecap="round"/>
<path d="M199.10 272.80H226.60" stroke="#6a6a6a" stroke-width="1.60"/>
<text font-size="10.10" font-weight="bold" stroke="#1c1c1c" transform="translate(229.90 276.50) translate(-0.57 0) scale(0.9421 1)">Cycle 1</text>
<path d="M199.10 288.50H226.60" stroke="#ea3a42" stroke-width="1.60"/>
<text font-size="10.10" font-weight="bold" stroke="#1c1c1c" transform="translate(229.90 292.20) translate(-0.57 0) scale(0.9421 1)">Cycle 2</text>
<path d="M199.10 304.10H226.60" stroke="#3064b0" stroke-width="1.60"/>
<text font-size="10.10" font-weight="bold" stroke="#1c1c1c" transform="translate(229.90 307.80) translate(-0.57 0) scale(0.9421 1)">Cycle 3</text>
<path d="M337.40 316.10L337.40 318.70M337.40 186.30L337.40 188.90M345.59 316.10L345.59 321.10M345.59 186.30L345.59 191.30M353.77 316.10L353.77 318.70M353.77 186.30L353.77 188.90M361.96 316.10L361.96 318.70M361.96 186.30L361.96 188.90M370.14 316.10L370.14 318.70M370.14 186.30L370.14 188.90M378.33 316.10L378.33 318.70M378.33 186.30L378.33 188.90M386.51 316.10L386.51 321.10M386.51 186.30L386.51 191.30M394.70 316.10L394.70 318.70M394.70 186.30L394.70 188.90M402.89 316.10L402.89 318.70M402.89 186.30L402.89 188.90M411.07 316.10L411.07 318.70M411.07 186.30L411.07 188.90M419.26 316.10L419.26 318.70M419.26 186.30L419.26 188.90M427.44 316.10L427.44 321.10M427.44 186.30L427.44 191.30M435.63 316.10L435.63 318.70M435.63 186.30L435.63 188.90M443.81 316.10L443.81 318.70M443.81 186.30L443.81 188.90M452.00 316.10L452.00 318.70M452.00 186.30L452.00 188.90M460.19 316.10L460.19 318.70M460.19 186.30L460.19 188.90M468.37 316.10L468.37 321.10M468.37 186.30L468.37 191.30M476.56 316.10L476.56 318.70M476.56 186.30L476.56 188.90M484.74 316.10L484.74 318.70M484.74 186.30L484.74 188.90M492.93 316.10L492.93 318.70M492.93 186.30L492.93 188.90M501.11 316.10L501.11 318.70M501.11 186.30L501.11 188.90M509.30 316.10L509.30 321.10M509.30 186.30L509.30 191.30M517.49 316.10L517.49 318.70M517.49 186.30L517.49 188.90M525.67 316.10L525.67 318.70M525.67 186.30L525.67 188.90M533.86 316.10L533.86 318.70M533.86 186.30L533.86 188.90M542.04 316.10L542.04 318.70M542.04 186.30L542.04 188.90M550.23 316.10L550.23 321.10M550.23 186.30L550.23 191.30M558.41 316.10L558.41 318.70M558.41 186.30L558.41 188.90M566.60 316.10L566.60 318.70M566.60 186.30L566.60 188.90M337.40 316.10L334.80 316.10M566.60 316.10L564.00 316.10M337.40 306.83L332.40 306.83M566.60 306.83L561.60 306.83M337.40 297.56L334.80 297.56M566.60 297.56L564.00 297.56M337.40 288.29L332.40 288.29M566.60 288.29L561.60 288.29M337.40 279.01L334.80 279.01M566.60 279.01L564.00 279.01M337.40 269.74L332.40 269.74M566.60 269.74L561.60 269.74M337.40 260.47L334.80 260.47M566.60 260.47L564.00 260.47M337.40 251.20L332.40 251.20M566.60 251.20L561.60 251.20M337.40 241.93L334.80 241.93M566.60 241.93L564.00 241.93M337.40 232.66L332.40 232.66M566.60 232.66L561.60 232.66M337.40 223.39L334.80 223.39M566.60 223.39L564.00 223.39M337.40 214.11L332.40 214.11M566.60 214.11L561.60 214.11M337.40 204.84L334.80 204.84M566.60 204.84L564.00 204.84M337.40 195.57L332.40 195.57M566.60 195.57L561.60 195.57M337.40 186.30L334.80 186.30M566.60 186.30L564.00 186.30" stroke="#1c1c1c" stroke-width="1.35" fill="none"/>
<rect x="337.40" y="186.30" width="229.20" height="129.80" stroke="#1c1c1c" stroke-width="1.25" fill="none"/>
<text x="345.59" y="333.00" font-size="10.40" text-anchor="middle" stroke="#1c1c1c">0.0</text>
<text x="386.51" y="333.00" font-size="10.40" text-anchor="middle" stroke="#1c1c1c">0.5</text>
<text x="427.44" y="333.00" font-size="10.40" text-anchor="middle" stroke="#1c1c1c">1.0</text>
<text x="468.37" y="333.00" font-size="10.40" text-anchor="middle" stroke="#1c1c1c">1.5</text>
<text x="509.30" y="333.00" font-size="10.40" text-anchor="middle" stroke="#1c1c1c">2.0</text>
<text x="550.23" y="333.00" font-size="10.40" text-anchor="middle" stroke="#1c1c1c">2.5</text>
<text x="328.50" y="199.32" font-size="10.40" text-anchor="end" stroke="#1c1c1c">0.2</text>
<text x="328.50" y="217.86" font-size="10.40" text-anchor="end" stroke="#1c1c1c">0.0</text>
<text x="328.50" y="236.41" font-size="10.40" text-anchor="end" stroke="#1c1c1c">-0.2</text>
<text x="328.50" y="254.95" font-size="10.40" text-anchor="end" stroke="#1c1c1c">-0.4</text>
<text x="328.50" y="273.49" font-size="10.40" text-anchor="end" stroke="#1c1c1c">-0.6</text>
<text x="328.50" y="292.04" font-size="10.40" text-anchor="end" stroke="#1c1c1c">-0.8</text>
<text x="328.50" y="310.58" font-size="10.40" text-anchor="end" stroke="#1c1c1c">-1.0</text>
<text font-size="10.20" font-weight="bold" stroke="#1c1c1c" transform="translate(344.10 309.30) translate(-0.60 0) scale(0.9778 1)">(d)</text>
<path d="M549.80 208.80C548.23 208.92 544.57 209.25 540.40 209.50C536.23 209.75 531.32 209.98 524.80 210.30C518.28 210.62 509.93 211.13 501.30 211.40C492.67 211.67 482.28 211.98 473.00 211.90C463.72 211.82 452.77 211.28 445.60 210.90C438.43 210.52 435.22 210.03 430.00 209.60C424.78 209.17 421.47 208.58 414.30 208.30C407.13 208.02 396.45 207.90 387.00 207.90C377.55 207.90 362.88 208.28 357.60 208.30C352.32 208.32 356.05 208.47 355.30 208.00C354.55 207.53 353.83 206.55 353.10 205.50C352.37 204.45 351.65 201.65 350.90 201.70C350.15 201.75 349.28 204.65 348.60 205.80C347.92 206.95 347.10 207.07 346.80 208.60C346.50 210.13 346.80 213.93 346.80 215.00C346.78 222.50 346.77 246.45 346.70 260.00C346.63 273.55 346.45 290.25 346.40 296.30C346.53 294.97 346.80 291.97 347.20 288.30C347.60 284.63 348.27 278.77 348.80 274.30C349.33 269.83 349.68 265.43 350.40 261.50C351.12 257.57 352.47 253.45 353.10 250.70C353.73 247.95 353.80 246.70 354.20 245.00C354.60 243.30 355.05 241.98 355.50 240.50C355.95 239.02 356.25 237.57 356.90 236.10C357.55 234.63 358.40 232.97 359.40 231.70C360.40 230.43 361.42 229.40 362.90 228.50C364.38 227.60 365.90 226.88 368.30 226.30C370.70 225.72 374.18 225.33 377.30 225.00C380.42 224.67 382.13 224.37 387.00 224.30C391.87 224.23 401.43 224.60 406.50 224.60C411.57 224.60 415.05 224.25 417.40 224.30C419.75 224.35 419.28 225.37 420.60 224.90C421.92 224.43 423.73 222.47 425.30 221.50C426.87 220.53 426.62 219.68 430.00 219.10C433.38 218.52 438.93 218.25 445.60 218.00C452.27 217.75 462.02 217.93 470.00 217.60C477.98 217.27 486.20 216.53 493.50 216.00C500.80 215.47 506.05 214.58 513.80 214.40C521.55 214.22 534.13 215.02 540.00 214.90C545.87 214.78 547.50 213.90 549.00 213.70L549.80 208.80" stroke="#6a6a6a" stroke-width="1.40" fill="none" stroke-linejoin="round" stroke-linecap="round"/>
<path d="M549.80 208.60C548.23 208.72 544.57 209.05 540.40 209.30C536.23 209.55 531.32 209.78 524.80 210.10C518.28 210.42 509.93 210.93 501.30 211.20C492.67 211.47 482.28 211.80 473.00 211.70C463.72 211.60 452.77 210.97 445.60 210.60C438.43 210.23 435.22 209.87 430.00 209.50C424.78 209.13 421.47 208.65 414.30 208.40C407.13 208.15 396.45 208.03 387.00 208.00C377.55 207.97 362.88 208.20 357.60 208.20C352.32 208.20 356.05 208.42 355.30 208.00C354.55 207.58 353.83 206.60 353.10 205.70C352.37 204.80 351.65 202.52 350.90 202.60C350.15 202.68 349.28 205.23 348.60 206.20C347.92 207.17 347.10 206.93 346.80 208.40C346.50 209.87 346.80 213.90 346.80 215.00L346.70 273.30C346.97 271.33 347.85 265.27 348.30 261.50C348.75 257.73 349.03 253.45 349.40 250.70C349.77 247.95 350.20 246.70 350.50 245.00C350.80 243.30 350.85 241.90 351.20 240.50C351.55 239.10 351.98 238.22 352.60 236.60C353.22 234.98 353.97 232.27 354.90 230.80C355.83 229.33 356.93 228.72 358.20 227.80C359.47 226.88 360.82 226.02 362.50 225.30C364.18 224.58 365.83 224.05 368.30 223.50C370.77 222.95 374.18 222.40 377.30 222.00C380.42 221.60 383.43 221.35 387.00 221.10C390.57 220.85 394.15 220.88 398.70 220.50C403.25 220.12 409.08 219.45 414.30 218.80C419.52 218.15 424.78 217.18 430.00 216.60C435.22 216.02 438.43 215.67 445.60 215.30C452.77 214.93 463.72 214.67 473.00 214.40C482.28 214.13 492.67 213.82 501.30 213.70C509.93 213.58 518.28 213.50 524.80 213.70C531.32 213.90 536.37 214.90 540.40 214.90C544.43 214.90 547.57 213.90 549.00 213.70L549.80 208.60" stroke="#ea3a42" stroke-width="1.70" fill="none" stroke-linejoin="round" stroke-linecap="round"/>
<path d="M549.80 208.60C548.23 208.73 544.57 209.13 540.40 209.40C536.23 209.67 531.32 209.88 524.80 210.20C518.28 210.52 509.93 211.03 501.30 211.30C492.67 211.57 482.28 211.88 473.00 211.80C463.72 211.72 452.77 211.15 445.60 210.80C438.43 210.45 435.22 210.08 430.00 209.70C424.78 209.32 421.47 208.78 414.30 208.50C407.13 208.22 396.45 208.05 387.00 208.00C377.55 207.95 362.88 208.20 357.60 208.20C352.32 208.20 356.05 208.42 355.30 208.00C354.55 207.58 353.83 206.57 353.10 205.70C352.37 204.83 351.65 202.72 350.90 202.80C350.15 202.88 349.28 205.27 348.60 206.20C347.92 207.13 347.10 206.93 346.80 208.40C346.50 209.87 346.80 213.90 346.80 215.00L346.90 268.40C347.03 267.25 347.38 264.45 347.70 261.50C348.02 258.55 348.43 253.45 348.80 250.70C349.17 247.95 349.63 246.70 349.90 245.00C350.17 243.30 350.08 241.98 350.40 240.50C350.72 239.02 351.20 237.57 351.80 236.10C352.40 234.63 353.03 233.12 354.00 231.70C354.97 230.28 356.27 228.72 357.60 227.60C358.93 226.48 360.22 225.73 362.00 225.00C363.78 224.27 365.75 223.73 368.30 223.20C370.85 222.67 374.18 222.18 377.30 221.80C380.42 221.42 383.43 221.13 387.00 220.90C390.57 220.67 394.15 220.77 398.70 220.40C403.25 220.03 409.08 219.35 414.30 218.70C419.52 218.05 424.78 217.08 430.00 216.50C435.22 215.92 438.43 215.55 445.60 215.20C452.77 214.85 463.72 214.65 473.00 214.40C482.28 214.15 492.67 213.82 501.30 213.70C509.93 213.58 518.28 213.50 524.80 213.70C531.32 213.90 536.37 214.90 540.40 214.90C544.43 214.90 547.57 213.90 549.00 213.70L549.80 208.60" stroke="#3064b0" stroke-width="1.70" fill="none" stroke-linejoin="round" stroke-linecap="round"/>
<path d="M492.60 273.70H520.10" stroke="#6a6a6a" stroke-width="1.60"/>
<text font-size="10.10" font-weight="bold" stroke="#1c1c1c" transform="translate(523.40 277.40) translate(-0.57 0) scale(0.9421 1)">Cycle 1</text>
<path d="M492.60 288.70H520.10" stroke="#ea3a42" stroke-width="1.60"/>
<text font-size="10.10" font-weight="bold" stroke="#1c1c1c" transform="translate(523.40 292.40) translate(-0.57 0) scale(0.9421 1)">Cycle 2</text>
<path d="M492.60 304.00H520.10" stroke="#3064b0" stroke-width="1.60"/>
<text font-size="10.10" font-weight="bold" stroke="#1c1c1c" transform="translate(523.40 307.70) translate(-0.57 0) scale(0.9421 1)">Cycle 3</text>
<text font-size="12.30" font-weight="bold" stroke="#1c1c1c" transform="translate(13.80 299.00) rotate(-90) translate(-0.77 0) scale(1.0461 1)">dQ/dV</text>
<text font-size="12.30" font-weight="bold" stroke="#1c1c1c" transform="translate(13.80 258.60) rotate(-90) translate(-0.79 0) scale(1.0654 1)">(mAh</text>
<text font-size="12.30" font-weight="bold" stroke="#1c1c1c" transform="translate(13.80 222.60) rotate(-90) translate(-0.76 0) scale(1.0329 1)">V<tspan font-size="8.36" dy="-4.92">-1</tspan><tspan dy="4.92">)</tspan></text>
<text font-size="12.30" font-weight="bold" stroke="#1c1c1c" transform="translate(306.70 298.50) rotate(-90) translate(-0.77 0) scale(1.0461 1)">dQ/dV</text>
<text font-size="12.30" font-weight="bold" stroke="#1c1c1c" transform="translate(306.70 258.10) rotate(-90) translate(-0.79 0) scale(1.0654 1)">(mAh</text>
<text font-size="12.30" font-weight="bold" stroke="#1c1c1c" transform="translate(306.70 222.10) rotate(-90) translate(-0.76 0) scale(1.0329 1)">V<tspan font-size="8.36" dy="-4.92">-1</tspan><tspan dy="4.92">)</tspan></text>
<text font-size="12.30" font-weight="bold" stroke="#1c1c1c" transform="translate(90.25 350.10) translate(-0.75 0) scale(1.0115 1)">Potential</text>
<text font-size="12.30" font-weight="bold" stroke="#1c1c1c" transform="translate(146.30 350.10) translate(-0.78 0) scale(1.0557 1)">(V</text>
<text font-size="12.30" font-weight="bold" stroke="#1c1c1c" transform="translate(161.50 350.10) translate(-0.68 0) scale(0.9174 1)">vs.</text>
<text font-size="12.30" font-weight="bold" stroke="#1c1c1c" transform="translate(181.50 350.10) translate(-0.79 0) scale(1.0671 1)">Na<tspan font-size="8.36" dy="-4.92">+</tspan><tspan dy="4.92">/Na)</tspan></text>
<text font-size="12.30" font-weight="bold" stroke="#1c1c1c" transform="translate(383.35 350.10) translate(-0.75 0) scale(1.0115 1)">Potential</text>
<text font-size="12.30" font-weight="bold" stroke="#1c1c1c" transform="translate(439.40 350.10) translate(-0.78 0) scale(1.0557 1)">(V</text>
<text font-size="12.30" font-weight="bold" stroke="#1c1c1c" transform="translate(454.60 350.10) translate(-0.68 0) scale(0.9174 1)">vs.</text>
<text font-size="12.30" font-weight="bold" stroke="#1c1c1c" transform="translate(474.60 350.10) translate(-0.79 0) scale(1.0671 1)">Na<tspan font-size="8.36" dy="-4.92">+</tspan><tspan dy="4.92">/Na)</tspan></text>
<path d="M157.60 523.20L157.60 525.80M157.60 371.40L157.60 374.00M166.94 523.20L166.94 528.20M166.94 371.40L166.94 376.40M176.27 523.20L176.27 525.80M176.27 371.40L176.27 374.00M185.61 523.20L185.61 525.80M185.61 371.40L185.61 374.00M194.95 523.20L194.95 525.80M194.95 371.40L194.95 374.00M204.29 523.20L204.29 525.80M204.29 371.40L204.29 374.00M213.62 523.20L213.62 528.20M213.62 371.40L213.62 376.40M222.96 523.20L222.96 525.80M222.96 371.40L222.96 374.00M232.30 523.20L232.30 525.80M232.30 371.40L232.30 374.00M241.64 523.20L241.64 525.80M241.64 371.40L241.64 374.00M250.97 523.20L250.97 525.80M250.97 371.40L250.97 374.00M260.31 523.20L260.31 528.20M260.31 371.40L260.31 376.40M269.65 523.20L269.65 525.80M269.65 371.40L269.65 374.00M278.99 523.20L278.99 525.80M278.99 371.40L278.99 374.00M288.32 523.20L288.32 525.80M288.32 371.40L288.32 374.00M297.66 523.20L297.66 525.80M297.66 371.40L297.66 374.00M307.00 523.20L307.00 528.20M307.00 371.40L307.00 376.40M316.34 523.20L316.34 525.80M316.34 371.40L316.34 374.00M325.67 523.20L325.67 525.80M325.67 371.40L325.67 374.00M335.01 523.20L335.01 525.80M335.01 371.40L335.01 374.00M344.35 523.20L344.35 525.80M344.35 371.40L344.35 374.00M353.69 523.20L353.69 528.20M353.69 371.40L353.69 376.40M363.02 523.20L363.02 525.80M363.02 371.40L363.02 374.00M372.36 523.20L372.36 525.80M372.36 371.40L372.36 374.00M381.70 523.20L381.70 525.80M381.70 371.40L381.70 374.00M391.04 523.20L391.04 525.80M391.04 371.40L391.04 374.00M400.38 523.20L400.38 528.20M400.38 371.40L400.38 376.40M409.71 523.20L409.71 525.80M409.71 371.40L409.71 374.00M419.05 523.20L419.05 525.80M419.05 371.40L419.05 374.00M428.39 523.20L428.39 525.80M428.39 371.40L428.39 374.00M437.72 523.20L437.72 525.80M437.72 371.40L437.72 374.00M447.06 523.20L447.06 528.20M447.06 371.40L447.06 376.40M456.40 523.20L456.40 525.80M456.40 371.40L456.40 374.00M157.60 523.20L155.00 523.20M456.40 523.20L453.80 523.20M157.60 518.14L155.00 518.14M456.40 518.14L453.80 518.14M157.60 513.08L155.00 513.08M456.40 513.08L453.80 513.08M157.60 508.02L152.60 508.02M456.40 508.02L451.40 508.02M157.60 502.96L155.00 502.96M456.40 502.96L453.80 502.96M157.60 497.90L155.00 497.90M456.40 497.90L453.80 497.90M157.60 492.84L155.00 492.84M456.40 492.84L453.80 492.84M157.60 487.78L155.00 487.78M456.40 487.78L453.80 487.78M157.60 482.72L152.60 482.72M456.40 482.72L451.40 482.72M157.60 477.66L155.00 477.66M456.40 477.66L453.80 477.66M157.60 472.60L155.00 472.60M456.40 472.60L453.80 472.60M157.60 467.54L155.00 467.54M456.40 467.54L453.80 467.54M157.60 462.48L155.00 462.48M456.40 462.48L453.80 462.48M157.60 457.42L152.60 457.42M456.40 457.42L451.40 457.42M157.60 452.36L155.00 452.36M456.40 452.36L453.80 452.36M157.60 447.30L155.00 447.30M456.40 447.30L453.80 447.30M157.60 442.24L155.00 442.24M456.40 442.24L453.80 442.24M157.60 437.18L155.00 437.18M456.40 437.18L453.80 437.18M157.60 432.12L152.60 432.12M456.40 432.12L451.40 432.12M157.60 427.06L155.00 427.06M456.40 427.06L453.80 427.06M157.60 422.00L155.00 422.00M456.40 422.00L453.80 422.00M157.60 416.94L155.00 416.94M456.40 416.94L453.80 416.94M157.60 411.88L155.00 411.88M456.40 411.88L453.80 411.88M157.60 406.82L152.60 406.82M456.40 406.82L451.40 406.82M157.60 401.76L155.00 401.76M456.40 401.76L453.80 401.76M157.60 396.70L155.00 396.70M456.40 396.70L453.80 396.70M157.60 391.64L155.00 391.64M456.40 391.64L453.80 391.64M157.60 386.58L155.00 386.58M456.40 386.58L453.80 386.58M157.60 381.52L152.60 381.52M456.40 381.52L451.40 381.52M157.60 376.46L155.00 376.46M456.40 376.46L453.80 376.46M157.60 371.40L155.00 371.40M456.40 371.40L453.80 371.40" stroke="#1c1c1c" stroke-width="1.35" fill="none"/>
<rect x="157.60" y="371.40" width="298.80" height="151.80" stroke="#1c1c1c" stroke-width="1.25" fill="none"/>
<path d="M208.96 372.40V522.70" stroke="#1c1c1c" stroke-width="1.5" stroke-dasharray="2.6 2.25"/>
<path d="M255.64 372.40V522.70" stroke="#1c1c1c" stroke-width="1.5" stroke-dasharray="2.6 2.25"/>
<path d="M302.33 372.40V522.70" stroke="#1c1c1c" stroke-width="1.5" stroke-dasharray="2.6 2.25"/>
<path d="M349.02 372.40V522.70" stroke="#1c1c1c" stroke-width="1.5" stroke-dasharray="2.6 2.25"/>
<path d="M395.71 372.40V522.70" stroke="#1c1c1c" stroke-width="1.5" stroke-dasharray="2.6 2.25"/>
<text x="166.94" y="540.30" font-size="10.40" text-anchor="middle" stroke="#1c1c1c">0</text>
<text x="213.62" y="540.30" font-size="10.40" text-anchor="middle" stroke="#1c1c1c">5</text>
<text x="260.31" y="540.30" font-size="10.40" text-anchor="middle" stroke="#1c1c1c">10</text>
<text x="307.00" y="540.30" font-size="10.40" text-anchor="middle" stroke="#1c1c1c">15</text>
<text x="353.69" y="540.30" font-size="10.40" text-anchor="middle" stroke="#1c1c1c">20</text>
<text x="400.38" y="540.30" font-size="10.40" text-anchor="middle" stroke="#1c1c1c">25</text>
<text x="447.06" y="540.30" font-size="10.40" text-anchor="middle" stroke="#1c1c1c">30</text>
<text x="148.30" y="511.77" font-size="10.40" text-anchor="end" stroke="#1c1c1c">50</text>
<text x="148.30" y="486.47" font-size="10.40" text-anchor="end" stroke="#1c1c1c">100</text>
<text x="148.30" y="461.17" font-size="10.40" text-anchor="end" stroke="#1c1c1c">150</text>
<text x="148.30" y="435.87" font-size="10.40" text-anchor="end" stroke="#1c1c1c">200</text>
<text x="148.30" y="410.57" font-size="10.40" text-anchor="end" stroke="#1c1c1c">250</text>
<text x="148.30" y="385.27" font-size="10.40" text-anchor="end" stroke="#1c1c1c">300</text>
<text font-size="10.20" font-weight="bold" stroke="#1c1c1c" transform="translate(162.00 516.80) translate(-0.64 0) scale(1.0456 1)">(e)</text>
<text font-size="12.30" font-weight="bold" stroke="#1c1c1c" transform="translate(125.40 498.60) rotate(-90) translate(-0.71 0) scale(0.9671 1)">Capacity</text>
<text font-size="12.30" font-weight="bold" stroke="#1c1c1c" transform="translate(125.40 446.40) rotate(-90) translate(-0.74 0) scale(1.0050 1)">(mAh</text>
<text font-size="12.30" font-weight="bold" stroke="#1c1c1c" transform="translate(125.40 412.50) rotate(-90) translate(-0.74 0) scale(0.9968 1)">g<tspan font-size="8.36" dy="-4.92">-1</tspan><tspan dy="4.92">)</tspan></text>
<text font-size="12.30" font-weight="bold" stroke="#1c1c1c" transform="translate(267.80 556.40) translate(-0.69 0) scale(0.9288 1)">Cycle</text>
<text font-size="12.30" font-weight="bold" stroke="#1c1c1c" transform="translate(301.70 556.40) translate(-0.72 0) scale(0.9744 1)">Number</text>
<circle cx="166.94" cy="426.90" r="2.75" fill="#6d6d6d"/>
<circle cx="176.27" cy="457.80" r="2.75" fill="#6d6d6d"/>
<circle cx="185.61" cy="460.00" r="2.75" fill="#6d6d6d"/>
<circle cx="194.95" cy="461.00" r="2.75" fill="#6d6d6d"/>
<circle cx="204.29" cy="461.50" r="2.75" fill="#6d6d6d"/>
<circle cx="213.62" cy="466.50" r="2.75" fill="#6d6d6d"/>
<circle cx="222.96" cy="467.50" r="2.75" fill="#6d6d6d"/>
<circle cx="232.30" cy="467.50" r="2.75" fill="#6d6d6d"/>
<circle cx="241.64" cy="467.50" r="2.75" fill="#6d6d6d"/>
<circle cx="250.97" cy="467.50" r="2.75" fill="#6d6d6d"/>
<circle cx="260.31" cy="472.50" r="2.75" fill="#6d6d6d"/>
<circle cx="269.65" cy="473.00" r="2.75" fill="#6d6d6d"/>
<circle cx="278.99" cy="473.00" r="2.75" fill="#6d6d6d"/>
<circle cx="288.32" cy="473.00" r="2.75" fill="#6d6d6d"/>
<circle cx="297.66" cy="473.00" r="2.75" fill="#6d6d6d"/>
<circle cx="307.00" cy="479.00" r="2.75" fill="#6d6d6d"/>
<circle cx="316.34" cy="479.00" r="2.75" fill="#6d6d6d"/>
<circle cx="325.67" cy="479.00" r="2.75" fill="#6d6d6d"/>
<circle cx="335.01" cy="479.00" r="2.75" fill="#6d6d6d"/>
<circle cx="344.35" cy="479.00" r="2.75" fill="#6d6d6d"/>
<circle cx="353.69" cy="485.50" r="2.75" fill="#6d6d6d"/>
<circle cx="363.02" cy="486.00" r="2.75" fill="#6d6d6d"/>
<circle cx="372.36" cy="486.00" r="2.75" fill="#6d6d6d"/>
<circle cx="381.70" cy="486.00" r="2.75" fill="#6d6d6d"/>
<circle cx="391.04" cy="486.00" r="2.75" fill="#6d6d6d"/>
<circle cx="400.38" cy="470.30" r="2.75" fill="#6d6d6d"/>
<circle cx="409.71" cy="464.70" r="2.75" fill="#6d6d6d"/>
<circle cx="419.05" cy="464.70" r="2.75" fill="#6d6d6d"/>
<circle cx="428.39" cy="464.50" r="2.75" fill="#6d6d6d"/>
<circle cx="437.72" cy="464.50" r="2.75" fill="#6d6d6d"/>
<path d="M166.94 458.32L169.49 462.65L164.39 462.65Z" stroke="#6d6d6d" stroke-width="1.1" fill="#fff"/>
<path d="M176.27 458.32L178.82 462.65L173.72 462.65Z" stroke="#6d6d6d" stroke-width="1.1" fill="#fff"/>
<path d="M185.61 459.22L188.16 463.55L183.06 463.55Z" stroke="#6d6d6d" stroke-width="1.1" fill="#fff"/>
<path d="M194.95 459.72L197.50 464.05L192.40 464.05Z" stroke="#6d6d6d" stroke-width="1.1" fill="#fff"/>
<path d="M204.29 460.22L206.84 464.55L201.74 464.55Z" stroke="#6d6d6d" stroke-width="1.1" fill="#fff"/>
<path d="M213.62 465.42L216.18 469.75L211.07 469.75Z" stroke="#6d6d6d" stroke-width="1.1" fill="#fff"/>
<path d="M222.96 466.12L225.51 470.45L220.41 470.45Z" stroke="#6d6d6d" stroke-width="1.1" fill="#fff"/>
<path d="M232.30 466.12L234.85 470.45L229.75 470.45Z" stroke="#6d6d6d" stroke-width="1.1" fill="#fff"/>
<path d="M241.64 466.42L244.19 470.75L239.09 470.75Z" stroke="#6d6d6d" stroke-width="1.1" fill="#fff"/>
<path d="M250.97 466.12L253.52 470.45L248.42 470.45Z" stroke="#6d6d6d" stroke-width="1.1" fill="#fff"/>
<path d="M260.31 471.02L262.86 475.35L257.76 475.35Z" stroke="#6d6d6d" stroke-width="1.1" fill="#fff"/>
<path d="M269.65 471.52L272.20 475.85L267.10 475.85Z" stroke="#6d6d6d" stroke-width="1.1" fill="#fff"/>
<path d="M278.99 471.52L281.54 475.85L276.44 475.85Z" stroke="#6d6d6d" stroke-width="1.1" fill="#fff"/>
<path d="M288.32 471.52L290.87 475.85L285.77 475.85Z" stroke="#6d6d6d" stroke-width="1.1" fill="#fff"/>
<path d="M297.66 471.52L300.21 475.85L295.11 475.85Z" stroke="#6d6d6d" stroke-width="1.1" fill="#fff"/>
<path d="M307.00 477.32L309.55 481.65L304.45 481.65Z" stroke="#6d6d6d" stroke-width="1.1" fill="#fff"/>
<path d="M316.34 477.62L318.89 481.95L313.79 481.95Z" stroke="#6d6d6d" stroke-width="1.1" fill="#fff"/>
<path d="M325.67 477.62L328.22 481.95L323.12 481.95Z" stroke="#6d6d6d" stroke-width="1.1" fill="#fff"/>
<path d="M335.01 477.62L337.56 481.95L332.46 481.95Z" stroke="#6d6d6d" stroke-width="1.1" fill="#fff"/>
<path d="M344.35 477.62L346.90 481.95L341.80 481.95Z" stroke="#6d6d6d" stroke-width="1.1" fill="#fff"/>
<path d="M353.69 483.92L356.24 488.25L351.14 488.25Z" stroke="#6d6d6d" stroke-width="1.1" fill="#fff"/>
<path d="M363.02 484.42L365.57 488.75L360.47 488.75Z" stroke="#6d6d6d" stroke-width="1.1" fill="#fff"/>
<path d="M372.36 484.42L374.91 488.75L369.81 488.75Z" stroke="#6d6d6d" stroke-width="1.1" fill="#fff"/>
<path d="M381.70 484.42L384.25 488.75L379.15 488.75Z" stroke="#6d6d6d" stroke-width="1.1" fill="#fff"/>
<path d="M391.04 484.42L393.59 488.75L388.49 488.75Z" stroke="#6d6d6d" stroke-width="1.1" fill="#fff"/>
<path d="M400.38 460.02L402.93 464.35L397.82 464.35Z" stroke="#6d6d6d" stroke-width="1.1" fill="#fff"/>
<path d="M409.71 460.32L412.26 464.65L407.16 464.65Z" stroke="#6d6d6d" stroke-width="1.1" fill="#fff"/>
<path d="M419.05 460.02L421.60 464.35L416.50 464.35Z" stroke="#6d6d6d" stroke-width="1.1" fill="#fff"/>
<path d="M428.39 460.02L430.94 464.35L425.84 464.35Z" stroke="#6d6d6d" stroke-width="1.1" fill="#fff"/>
<path d="M437.72 459.82L440.27 464.15L435.17 464.15Z" stroke="#6d6d6d" stroke-width="1.1" fill="#fff"/>
<circle cx="166.94" cy="383.30" r="2.75" fill="#ea343d"/>
<circle cx="176.27" cy="453.70" r="2.75" fill="#ea343d"/>
<circle cx="185.61" cy="456.80" r="2.75" fill="#ea343d"/>
<circle cx="194.95" cy="458.30" r="2.75" fill="#ea343d"/>
<circle cx="204.29" cy="459.20" r="2.75" fill="#ea343d"/>
<circle cx="213.62" cy="462.50" r="2.75" fill="#ea343d"/>
<circle cx="222.96" cy="464.40" r="2.75" fill="#ea343d"/>
<circle cx="232.30" cy="464.60" r="2.75" fill="#ea343d"/>
<circle cx="241.64" cy="464.40" r="2.75" fill="#ea343d"/>
<circle cx="250.97" cy="464.20" r="2.75" fill="#ea343d"/>
<circle cx="260.31" cy="466.90" r="2.75" fill="#ea343d"/>
<circle cx="269.65" cy="467.70" r="2.75" fill="#ea343d"/>
<circle cx="278.99" cy="467.70" r="2.75" fill="#ea343d"/>
<circle cx="288.32" cy="467.70" r="2.75" fill="#ea343d"/>
<circle cx="297.66" cy="467.70" r="2.75" fill="#ea343d"/>
<circle cx="307.00" cy="473.50" r="2.75" fill="#ea343d"/>
<circle cx="316.34" cy="476.00" r="2.75" fill="#ea343d"/>
<circle cx="325.67" cy="476.00" r="2.75" fill="#ea343d"/>
<circle cx="335.01" cy="476.00" r="2.75" fill="#ea343d"/>
<circle cx="344.35" cy="476.00" r="2.75" fill="#ea343d"/>
<circle cx="353.69" cy="480.60" r="2.75" fill="#ea343d"/>
<circle cx="363.02" cy="483.00" r="2.75" fill="#ea343d"/>
<circle cx="372.36" cy="483.00" r="2.75" fill="#ea343d"/>
<circle cx="381.70" cy="483.00" r="2.75" fill="#ea343d"/>
<circle cx="391.04" cy="483.00" r="2.75" fill="#ea343d"/>
<circle cx="400.38" cy="459.60" r="2.75" fill="#ea343d"/>
<circle cx="409.71" cy="458.80" r="2.75" fill="#ea343d"/>
<circle cx="419.05" cy="456.70" r="2.75" fill="#ea343d"/>
<circle cx="428.39" cy="455.60" r="2.75" fill="#ea343d"/>
<circle cx="437.72" cy="453.90" r="2.75" fill="#ea343d"/>
<path d="M166.94 431.82L169.49 436.15L164.39 436.15Z" stroke="#ea343d" stroke-width="1.1" fill="#fff"/>
<path d="M176.27 440.62L178.82 444.95L173.72 444.95Z" stroke="#ea343d" stroke-width="1.1" fill="#fff"/>
<path d="M185.61 442.02L188.16 446.35L183.06 446.35Z" stroke="#ea343d" stroke-width="1.1" fill="#fff"/>
<path d="M194.95 442.62L197.50 446.95L192.40 446.95Z" stroke="#ea343d" stroke-width="1.1" fill="#fff"/>
<path d="M204.29 443.02L206.84 447.35L201.74 447.35Z" stroke="#ea343d" stroke-width="1.1" fill="#fff"/>
<path d="M213.62 454.92L216.18 459.25L211.07 459.25Z" stroke="#ea343d" stroke-width="1.1" fill="#fff"/>
<path d="M222.96 454.92L225.51 459.25L220.41 459.25Z" stroke="#ea343d" stroke-width="1.1" fill="#fff"/>
<path d="M232.30 455.22L234.85 459.55L229.75 459.55Z" stroke="#ea343d" stroke-width="1.1" fill="#fff"/>
<path d="M241.64 455.42L244.19 459.75L239.09 459.75Z" stroke="#ea343d" stroke-width="1.1" fill="#fff"/>
<path d="M250.97 455.22L253.52 459.55L248.42 459.55Z" stroke="#ea343d" stroke-width="1.1" fill="#fff"/>
<path d="M260.31 462.62L262.86 466.95L257.76 466.95Z" stroke="#ea343d" stroke-width="1.1" fill="#fff"/>
<path d="M269.65 462.62L272.20 466.95L267.10 466.95Z" stroke="#ea343d" stroke-width="1.1" fill="#fff"/>
<path d="M278.99 462.62L281.54 466.95L276.44 466.95Z" stroke="#ea343d" stroke-width="1.1" fill="#fff"/>
<path d="M288.32 462.62L290.87 466.95L285.77 466.95Z" stroke="#ea343d" stroke-width="1.1" fill="#fff"/>
<path d="M297.66 462.62L300.21 466.95L295.11 466.95Z" stroke="#ea343d" stroke-width="1.1" fill="#fff"/>
<path d="M307.00 471.62L309.55 475.95L304.45 475.95Z" stroke="#ea343d" stroke-width="1.1" fill="#fff"/>
<path d="M316.34 473.22L318.89 477.55L313.79 477.55Z" stroke="#ea343d" stroke-width="1.1" fill="#fff"/>
<path d="M325.67 473.22L328.22 477.55L323.12 477.55Z" stroke="#ea343d" stroke-width="1.1" fill="#fff"/>
<path d="M335.01 473.22L337.56 477.55L332.46 477.55Z" stroke="#ea343d" stroke-width="1.1" fill="#fff"/>
<path d="M344.35 473.22L346.90 477.55L341.80 477.55Z" stroke="#ea343d" stroke-width="1.1" fill="#fff"/>
<path d="M353.69 480.32L356.24 484.65L351.14 484.65Z" stroke="#ea343d" stroke-width="1.1" fill="#fff"/>
<path d="M363.02 480.82L365.57 485.15L360.47 485.15Z" stroke="#ea343d" stroke-width="1.1" fill="#fff"/>
<path d="M372.36 480.82L374.91 485.15L369.81 485.15Z" stroke="#ea343d" stroke-width="1.1" fill="#fff"/>
<path d="M381.70 480.82L384.25 485.15L379.15 485.15Z" stroke="#ea343d" stroke-width="1.1" fill="#fff"/>
<path d="M391.04 480.82L393.59 485.15L388.49 485.15Z" stroke="#ea343d" stroke-width="1.1" fill="#fff"/>
<path d="M400.38 443.02L402.93 447.35L397.82 447.35Z" stroke="#ea343d" stroke-width="1.1" fill="#fff"/>
<path d="M409.71 441.92L412.26 446.25L407.16 446.25Z" stroke="#ea343d" stroke-width="1.1" fill="#fff"/>
<path d="M419.05 440.22L421.60 444.55L416.50 444.55Z" stroke="#ea343d" stroke-width="1.1" fill="#fff"/>
<path d="M428.39 438.92L430.94 443.25L425.84 443.25Z" stroke="#ea343d" stroke-width="1.1" fill="#fff"/>
<path d="M437.72 437.42L440.27 441.75L435.17 441.75Z" stroke="#ea343d" stroke-width="1.1" fill="#fff"/>
<text font-size="7.90" font-weight="bold" stroke="#1c1c1c" style="stroke-width:0.12px" transform="translate(167.90 419.70) translate(-0.46 0) scale(0.9705 1)">25 mA g<tspan font-size="4.90" dy="-3.32">-1</tspan></text>
<text font-size="7.90" font-weight="bold" stroke="#1c1c1c" style="stroke-width:0.12px" transform="translate(216.50 443.70) translate(-0.47 0) scale(0.9907 1)">50 mA g<tspan font-size="4.90" dy="-3.32">-1</tspan></text>
<text font-size="7.90" font-weight="bold" stroke="#1c1c1c" style="stroke-width:0.12px" transform="translate(259.80 457.50) translate(-0.47 0) scale(0.9893 1)">100 mA g<tspan font-size="4.90" dy="-3.32">-1</tspan></text>
<text font-size="7.90" font-weight="bold" stroke="#1c1c1c" style="stroke-width:0.12px" transform="translate(306.80 464.20) translate(-0.47 0) scale(0.9893 1)">250 mA g<tspan font-size="4.90" dy="-3.32">-1</tspan></text>
<text font-size="7.90" font-weight="bold" stroke="#1c1c1c" style="stroke-width:0.12px" transform="translate(353.30 471.20) translate(-0.47 0) scale(1.0021 1)">500 mA g<tspan font-size="4.90" dy="-3.32">-1</tspan></text>
<text font-size="7.90" font-weight="bold" stroke="#1c1c1c" style="stroke-width:0.12px" transform="translate(404.10 436.20) translate(-0.48 0) scale(1.0021 1)">25 mA g<tspan font-size="4.90" dy="-3.32">-1</tspan></text>
<rect x="381" y="379.3" width="70" height="27" fill="#fff"/>
<circle cx="385.10" cy="387.00" r="2.45" fill="#6d6d6d"/>
<path d="M397 382.9L401 390.6H393Z" fill="#6d6d6d"/>
<text font-size="9.50" font-weight="bold" stroke="#6d6d6d" fill="#6d6d6d" transform="translate(405.60 390.40) translate(-0.58 0) scale(1.0208 1)">Aqueous</text>
<circle cx="385.10" cy="400.90" r="2.45" fill="#ea343d"/>
<path d="M397 396.7L401 404.3H393Z" fill="#ea343d"/>
<text font-size="9.50" font-weight="bold" stroke="#ea343d" fill="#ea343d" transform="translate(405.60 403.90) translate(-0.57 0) scale(0.9940 1)">Organic</text>
</svg>
</body></html>
